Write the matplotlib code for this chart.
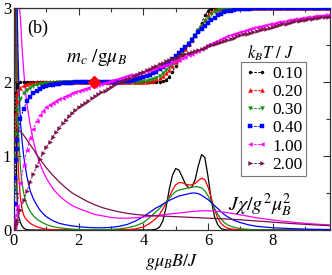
import matplotlib
matplotlib.use("Agg")
import matplotlib.pyplot as plt
from matplotlib.ticker import MultipleLocator

plt.rcParams['font.family'] = ['Liberation Serif', 'DejaVu Serif']
plt.rcParams['mathtext.fontset'] = 'stix'

# ---------------- data ----------------
temps = ['0.10', '0.20', '0.30', '0.40', '1.00', '2.00']
colors = ['#000000', '#ff0000', '#109010', '#0000ff', '#ff00ff', '#7a1048']
markers = ['o', '^', 'v', 's', '<', '>']

# field grid for magnetization curves
m_B = [0, 0.02, 0.04, 0.06, 0.08,
       0.1, 0.2, 0.3, 0.4, 0.5, 0.6, 0.7, 0.8, 0.9, 1.0,
       1.1, 1.2, 1.3, 1.4, 1.5, 1.6, 1.7, 1.8, 1.9, 2.0,
       2.1, 2.2, 2.3, 2.4, 2.5, 2.6, 2.7, 2.8, 2.9, 3.0,
       3.1, 3.2, 3.3, 3.4, 3.5, 3.6, 3.7, 3.8, 3.9, 4.0,
       4.1, 4.2, 4.3, 4.4, 4.5, 4.6, 4.7, 4.8, 4.9, 5.0,
       5.1, 5.2, 5.3, 5.4, 5.5, 5.6, 5.7, 5.8, 5.9, 6.0,
       6.1, 6.2, 6.3, 6.4, 6.5, 6.6, 6.7, 6.8, 6.9, 7.0,
       7.1, 7.2, 7.3, 7.4, 7.5, 7.6, 7.7, 7.8, 7.9, 8.0,
       8.1, 8.2, 8.3, 8.4, 8.5, 8.6, 8.7, 8.8, 8.9, 9.0,
       9.1, 9.2, 9.3, 9.4, 9.5, 9.6, 9.7, 9.8]

m_T010 = [0, 1.1, 1.6, 1.85, 1.93,
          1.97, 1.995, 2, 2, 2, 2, 2, 2, 2, 2,
          2, 2, 2, 2, 2, 2, 2, 2, 2, 2,
          2, 2, 2, 2, 2, 2, 2, 2, 2, 2,
          2, 2, 2, 2, 2, 2, 2, 2, 2, 2,
          2, 2, 2, 2, 2, 2.01, 2.03, 2.07, 2.14, 2.22,
          2.3, 2.37, 2.44, 2.5, 2.56, 2.62, 2.7, 2.8, 2.9, 2.96,
          2.99, 3, 3, 3, 3, 3, 3, 3, 3, 3,
          3, 3, 3, 3, 3, 3, 3, 3, 3, 3,
          3, 3, 3, 3, 3, 3, 3, 3, 3, 3,
          3, 3, 3, 3, 3, 3, 3, 3]

m_T020 = [0, 0.7, 1.25, 1.58, 1.75,
          1.85, 1.92, 1.955, 1.972, 1.983, 1.99, 1.994, 1.997, 1.999, 2,
          2, 2, 2, 2, 2, 2, 2, 2, 2, 2,
          2, 2, 2, 2, 2, 2, 2, 2, 2, 2,
          2, 2, 2, 2, 2, 2, 2, 2, 2, 2,
          2.005, 2.01, 2.02, 2.035, 2.055, 2.08, 2.115, 2.16, 2.21, 2.27,
          2.33, 2.39, 2.45, 2.51, 2.57, 2.63, 2.7, 2.77, 2.84, 2.9,
          2.945, 2.97, 2.985, 2.993, 2.997, 3, 3, 3, 3, 3,
          3, 3, 3, 3, 3, 3, 3, 3, 3, 3,
          3, 3, 3, 3, 3, 3, 3, 3, 3, 3,
          3, 3, 3, 3, 3, 3, 3, 3]

m_T030 = [0, 0.55, 1.0, 1.3, 1.5,
          1.62, 1.77, 1.85, 1.895, 1.925, 1.945, 1.96, 1.97, 1.977, 1.983,
          1.987, 1.99, 1.993, 1.995, 1.997, 1.998, 1.999, 2, 2, 2,
          2, 2, 2, 2, 2, 2, 2, 2, 2, 2,
          2, 2, 2, 2, 2, 2, 2.001, 2.003, 2.006, 2.01,
          2.015, 2.025, 2.04, 2.06, 2.085, 2.12, 2.16, 2.2, 2.25, 2.3,
          2.355, 2.41, 2.47, 2.525, 2.58, 2.64, 2.7, 2.76, 2.82, 2.87,
          2.915, 2.95, 2.97, 2.985, 2.992, 2.996, 2.998, 3, 3, 3,
          3, 3, 3, 3, 3, 3, 3, 3, 3, 3,
          3, 3, 3, 3, 3, 3, 3, 3, 3, 3,
          3, 3, 3, 3, 3, 3, 3, 3]

m_T040 = [0, 0.35, 0.7, 0.95, 1.1,
          1.22, 1.5, 1.64, 1.74, 1.8, 1.85, 1.885, 1.91, 1.93, 1.945,
          1.956, 1.965, 1.972, 1.978, 1.983, 1.987, 1.99, 1.993, 1.995, 1.997,
          1.998, 1.999, 2, 2, 2, 2, 2, 2, 2, 2,
          2, 2.003, 2.006, 2.01, 2.015, 2.02, 2.03, 2.04, 2.05, 2.065,
          2.08, 2.1, 2.12, 2.14, 2.17, 2.2, 2.235, 2.27, 2.31, 2.35,
          2.39, 2.43, 2.475, 2.52, 2.57, 2.62, 2.67, 2.72, 2.76, 2.8,
          2.84, 2.87, 2.9, 2.92, 2.94, 2.955, 2.965, 2.975, 2.98, 2.985,
          2.988, 2.99, 2.992, 2.994, 2.995, 2.996, 2.997, 2.998, 2.998, 2.999,
          2.999, 3, 3, 3, 3, 3, 3, 3, 3, 3,
          3, 3, 3, 3, 3, 3, 3, 3]

m_T100 = [0, 0.07, 0.14, 0.2, 0.27,
          0.33, 0.64, 0.88, 1.08, 1.24, 1.37, 1.47, 1.55, 1.61, 1.66,
          1.695, 1.72, 1.745, 1.77, 1.79, 1.81, 1.83, 1.85, 1.865, 1.88,
          1.895, 1.91, 1.925, 1.94, 1.952, 1.965, 1.977, 1.988, 2.0, 2.012,
          2.025, 2.038, 2.05, 2.063, 2.075, 2.088, 2.1, 2.112, 2.125, 2.138,
          2.15, 2.163, 2.176, 2.19, 2.204, 2.218, 2.232, 2.248, 2.264, 2.28,
          2.3, 2.32, 2.34, 2.36, 2.38, 2.4, 2.425, 2.45, 2.475, 2.5,
          2.52, 2.54, 2.56, 2.58, 2.6, 2.615, 2.63, 2.645, 2.66, 2.675,
          2.69, 2.703, 2.716, 2.728, 2.74, 2.75, 2.76, 2.77, 2.78, 2.79,
          2.8, 2.808, 2.816, 2.824, 2.832, 2.84, 2.847, 2.854, 2.861, 2.868,
          2.874, 2.88, 2.886, 2.892, 2.898, 2.904, 2.91, 2.915]

m_T200 = [0, 0.027, 0.055, 0.082, 0.11,
          0.137, 0.27, 0.4, 0.53, 0.65, 0.76, 0.86, 0.955, 1.04, 1.12,
          1.19, 1.26, 1.32, 1.38, 1.44, 1.49, 1.54, 1.58, 1.62, 1.66,
          1.69, 1.72, 1.75, 1.78, 1.81, 1.835, 1.86, 1.885, 1.91, 1.935,
          1.96, 1.98, 2.0, 2.02, 2.04, 2.06, 2.08, 2.1, 2.12, 2.14,
          2.16, 2.18, 2.2, 2.22, 2.24, 2.26, 2.28, 2.3, 2.315, 2.33,
          2.345, 2.36, 2.375, 2.39, 2.405, 2.42, 2.435, 2.45, 2.465, 2.48,
          2.495, 2.51, 2.525, 2.54, 2.555, 2.57, 2.585, 2.6, 2.615, 2.63,
          2.642, 2.654, 2.666, 2.678, 2.69, 2.7, 2.71, 2.72, 2.73, 2.75,
          2.76, 2.77, 2.78, 2.79, 2.8, 2.81, 2.818, 2.826, 2.834, 2.842,
          2.849, 2.856, 2.862, 2.868, 2.873, 2.878, 2.883, 2.888]

# field grid for susceptibility curves
chi_B = [0.02, 0.04, 0.06, 0.08, 0.1,
         0.12, 0.15, 0.2, 0.25, 0.3,
         0.35, 0.4, 0.5, 0.6, 0.7,
         0.8, 0.9, 1.0, 1.2, 1.4,
         1.6, 1.8, 2.0, 2.25, 2.5,
         2.75, 3.0, 3.25, 3.5, 3.75,
         4.0, 4.2, 4.4, 4.5, 4.6,
         4.7, 4.8, 4.9, 5.0, 5.1,
         5.2, 5.3, 5.4, 5.5, 5.6,
         5.7, 5.8, 5.9, 6.0, 6.1,
         6.2, 6.3, 6.4, 6.5, 6.6,
         6.8, 7.0, 7.25, 7.5, 8.0,
         8.5, 9.0, 9.5, 9.8]

chi_T010 = [8, 5, 2.2, 0.8, 0.38,
            0.26, 0.17, 0.1, 0.05, 0.025,
            0.012, 0.005, 0.001, 0, 0,
            0, 0, 0, 0, 0,
            0, 0, 0, 0, 0,
            0, 0, 0, 0, 0,
            0, 0, 0.01, 0.04, 0.12,
            0.3, 0.55, 0.74, 0.83, 0.81,
            0.72, 0.62, 0.57, 0.58, 0.68,
            0.87, 1.02, 0.98, 0.72, 0.4,
            0.18, 0.07, 0.02, 0.005, 0,
            0, 0, 0, 0, 0,
            0, 0, 0, 0]

chi_T020 = [10, 6, 3.6, 2.2, 1.4,
            1.0, 0.7, 0.43, 0.28, 0.2,
            0.16, 0.13, 0.09, 0.065, 0.045,
            0.03, 0.02, 0.012, 0.005, 0.002,
            0, 0, 0, 0, 0,
            0, 0.001, 0.002, 0.005, 0.015,
            0.04, 0.09, 0.16, 0.21, 0.28,
            0.36, 0.45, 0.54, 0.61, 0.64,
            0.64, 0.62, 0.61, 0.61, 0.63,
            0.67, 0.7, 0.68, 0.58, 0.43,
            0.28, 0.16, 0.09, 0.05, 0.025,
            0.008, 0.002, 0, 0, 0,
            0, 0, 0, 0]

chi_T030 = [10, 7, 4.8, 3.3, 2.3,
            1.7, 1.2, 0.84, 0.63, 0.5,
            0.41, 0.34, 0.25, 0.19, 0.15,
            0.12, 0.095, 0.075, 0.045, 0.03,
            0.02, 0.012, 0.008, 0.005, 0.004,
            0.005, 0.008, 0.015, 0.03, 0.055,
            0.1, 0.17, 0.25, 0.29, 0.34,
            0.38, 0.43, 0.48, 0.52, 0.54,
            0.55, 0.56, 0.57, 0.58, 0.585,
            0.58, 0.57, 0.53, 0.46, 0.38,
            0.29, 0.21, 0.15, 0.1, 0.07,
            0.035, 0.018, 0.008, 0.004, 0.001,
            0, 0, 0, 0]

chi_T040 = [10, 7, 5, 3.8, 3.0,
            2.45, 1.95, 1.45, 1.2, 1.0,
            0.85, 0.72, 0.53, 0.42, 0.34,
            0.27, 0.22, 0.18, 0.125, 0.09,
            0.07, 0.055, 0.045, 0.035, 0.03,
            0.03, 0.035, 0.05, 0.075, 0.12,
            0.18, 0.24, 0.3, 0.32, 0.35,
            0.37, 0.4, 0.42, 0.44, 0.46,
            0.47, 0.48, 0.49, 0.5, 0.5,
            0.49, 0.47, 0.44, 0.41, 0.37,
            0.33, 0.29, 0.25, 0.21, 0.18,
            0.13, 0.1, 0.07, 0.05, 0.03,
            0.02, 0.012, 0.008, 0.006]

chi_T100 = [3.6, 3.6, 3.5, 3.45, 3.35,
            3.25, 3.1, 2.85, 2.45, 2.15,
            1.9, 1.7, 1.42, 1.2, 1.03,
            0.9, 0.79, 0.7, 0.56, 0.46,
            0.39, 0.33, 0.29, 0.25, 0.21,
            0.19, 0.17, 0.16, 0.16, 0.165,
            0.175, 0.185, 0.195, 0.2, 0.205,
            0.21, 0.215, 0.22, 0.225, 0.23,
            0.235, 0.24, 0.245, 0.25, 0.253,
            0.256, 0.258, 0.26, 0.26, 0.258,
            0.255, 0.25, 0.245, 0.24, 0.235,
            0.22, 0.205, 0.185, 0.165, 0.135,
            0.11, 0.09, 0.075, 0.068]

chi_T200 = [1.37, 1.37, 1.37, 1.365, 1.36,
            1.355, 1.35, 1.33, 1.31, 1.28,
            1.25, 1.22, 1.15, 1.09, 1.02,
            0.96, 0.9, 0.84, 0.74, 0.65,
            0.57, 0.5, 0.45, 0.39, 0.34,
            0.3, 0.27, 0.245, 0.225, 0.21,
            0.2, 0.195, 0.19, 0.19, 0.188,
            0.186, 0.184, 0.182, 0.18, 0.178,
            0.176, 0.174, 0.172, 0.17, 0.168,
            0.166, 0.164, 0.162, 0.16, 0.158,
            0.156, 0.154, 0.152, 0.15, 0.148,
            0.143, 0.138, 0.13, 0.122, 0.106,
            0.09, 0.076, 0.064, 0.058]

m_series = [m_T010, m_T020, m_T030, m_T040, m_T100, m_T200]
chi_series = [chi_T010, chi_T020, chi_T030, chi_T040, chi_T100, chi_T200]

# crossing point marker
cross_B = [2.46]
cross_m = [2.0]

# ---------------- figure ----------------
fig = plt.figure(figsize=(3.32, 2.75), dpi=100)
ax = fig.add_axes([14/332, 45/275, 316/332, 222/275])

for chi, c in zip(chi_series, colors):
    ax.plot(chi_B, chi, '-', color=c, lw=0.9, zorder=2)

handles = []
for m, c, mk, lab in zip(m_series, colors, markers, temps):
    ms = 2.2 if mk == 'o' else 2.8
    h, = ax.plot(m_B, m, linestyle=(0, (2.5, 1.5)), lw=0.7, color=c,
                 marker=mk, ms=ms, mec=c, mfc=c, mew=0.3, label=lab, zorder=3)
    handles.append(h)

ax.plot(cross_B, cross_m, 'D', color='#ff0000', ms=6, mec='#ff0000', zorder=5)

ax.set_xlim(0, 9.77)
ax.set_ylim(0, 3)
ax.xaxis.set_major_locator(MultipleLocator(2))
ax.xaxis.set_minor_locator(MultipleLocator(1))
ax.yaxis.set_major_locator(MultipleLocator(1))
ax.yaxis.set_minor_locator(MultipleLocator(0.5))
ax.tick_params(which='both', direction='in', top=True, right=True,
               labelsize=12, width=0.8, colors='#333333', labelcolor='black')
ax.tick_params(which='major', length=5, pad=2)
ax.tick_params(which='minor', length=3)
for s in ax.spines.values():
    s.set_linewidth(0.9)
    s.set_color('#333333')

ax.set_xlabel(r'$g\mu_B B/J$', fontsize=13, labelpad=2)

fig.text(38/332, 1 - 28/275, '(b)', fontsize=13, ha='center', va='center')
fig.text(66/332, 1 - 57/275, r'$m_c\ /\mathrm{g}\mu_B$', fontsize=14, ha='left', va='center')
fig.text(228/332, 1 - 205/275, r'$J\chi/g^2\mu^2_B$', fontsize=14.5, ha='left', va='center')
fig.text(271/332, 1 - 53/275, r'$k_BT\ /\ J$', fontsize=12, ha='center', va='center')

leg = ax.legend(handles=handles, loc='upper right',
                bbox_to_anchor=(306/332, 1 - 62/275), bbox_transform=fig.transFigure,
                fontsize=12.5, frameon=True, fancybox=False, edgecolor='#777777',
                framealpha=1, numpoints=2, handlelength=1.3, handletextpad=0.3,
                labelspacing=0.12, borderpad=0.2, borderaxespad=0)
leg.get_frame().set_linewidth(0.8)

fig.savefig('out.png', dpi=100)
